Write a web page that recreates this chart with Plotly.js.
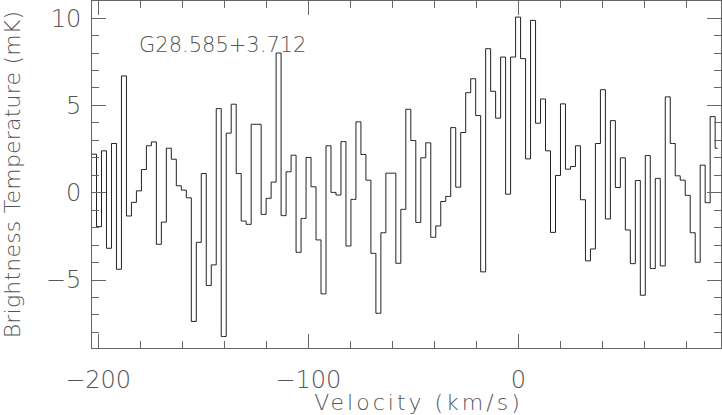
<!DOCTYPE html>
<html>
<head>
<meta charset="utf-8">
<script src="https://cdn.plot.ly/plotly-3.0.1.min.js"></script>
<style>
html,body{margin:0;padding:0;background:#fff;}
#chart{width:722px;height:415px;}
#chart .xtitle{letter-spacing:3.0px;transform:translateX(12px);}
#chart .ytitle{letter-spacing:0.2px;}
</style>
</head>
<body>
<div id="chart"></div>
<script>
// Channel brightness temperatures (mK), left to right
const temperature = [
  -1.94, 2.21, -1.94, 2.40, -3.18, 2.82, -4.38, 6.69, -1.33, -0.55, 0.11, 1.33, 2.69, 2.91, -2.95, -1.68, 2.55, 1.92, 0.40, 0.15, -0.29, -7.37,
  -2.84, 1.10, -5.31, -4.13, 4.82, -8.23, 3.41, 5.07, 1.10, -1.62, -1.81, 3.92, 3.92, -1.24, -0.32, 0.61, 8.00, -1.31, 1.20, 2.15, -3.41,
  -1.47, 2.02, 0.34, -2.70, -5.79, 2.69, 0.02, -0.13, 2.93, -3.05, -0.38, 4.06, 2.19, 0.72, -3.47, -6.90, -2.29, 1.12, 1.12, -4.04, -0.95,
  4.78, 2.99, -1.70, 2.00, 2.86, -2.55, -1.90, -0.50, -0.21, 3.73, 0.32, 3.45, 5.73, 6.53, 4.42, -4.53, 8.25, 5.81, 4.27, 7.77, -0.08,
  7.77, 10.06, 7.68, 1.94, 9.87, 3.98, 5.37, 2.40, -2.27, 0.99, 5.09, 1.35, 1.50, 2.69, -0.40, -3.90, -3.22, 2.82, 5.90, -1.50, 4.13,
  0.30, 2.00, -2.13, -4.06, 0.70, -5.87, 2.13, -4.34, 0.82, -4.19, 5.49, 2.82, 0.97, 0.72, -0.15, -2.29, -3.98, 1.58, -0.57, 4.36, 2.55
];
const firstVelocity = -204.32;   // km/s, centre of first channel
const channelWidth = 2.374;      // km/s
const sourceName = "G28.585+3.712";
const xTitle = "Velocity (km/s)";
const yTitle = "Brightness Temperature (mK)";

const fam = "DejaVu Sans, sans-serif";
const tickFont = {family: fam, size: 24, color: "#555", weight: 200};
const titleFont = {family: fam, size: 22, color: "#555", weight: 200};
const labelFont = {family: fam, size: 21, color: "#555", weight: 200};
const axisColor = "#666";

const trace = {
  type: "scatter",
  mode: "lines",
  y: temperature,
  x0: firstVelocity,
  dx: channelWidth,
  line: {shape: "hvh", color: "#222", width: 1},
  hoverinfo: "skip"
};

const layout = {
  width: 722, height: 415,
  margin: {l: 92, r: 1, t: 1, b: 67},
  paper_bgcolor: "#fff", plot_bgcolor: "#fff",
  showlegend: false,
  font: tickFont,
  xaxis: {
    range: [-202.9, 96.4],
    showgrid: false, zeroline: false,
    showline: true, linecolor: axisColor, linewidth: 1, mirror: "allticks",
    ticks: "inside", ticklen: 14, tickcolor: axisColor, tickwidth: 1,
    tick0: 0, dtick: 100,
    minor: {ticks: "inside", dtick: 20, ticklen: 7, tickcolor: axisColor, showgrid: false},
    ticklabelstandoff: 10,
    ticklabeloverflow: "allow",
    tickfont: tickFont,
    title: {text: xTitle, font: titleFont, standoff: 2}
  },
  yaxis: {
    range: [-8.89, 10.98],
    showgrid: false, zeroline: false,
    showline: true, linecolor: axisColor, linewidth: 1, mirror: "allticks",
    ticks: "inside", ticklen: 14, tickcolor: axisColor, tickwidth: 1,
    tick0: 0, dtick: 5,
    minor: {ticks: "inside", dtick: 1, ticklen: 7, tickcolor: axisColor, showgrid: false},
    ticklabelstandoff: 5,
    ticklabeloverflow: "allow",
    tickfont: tickFont,
    title: {text: yTitle, font: titleFont, standoff: 20}
  },
  annotations: [{
    text: sourceName, xref: "x", yref: "y",
    x: -181.6, y: 8.44, xanchor: "left", yanchor: "middle",
    showarrow: false, font: labelFont
  }]
};

Plotly.newPlot("chart", [trace], layout, {staticPlot: true, displayModeBar: false});
</script>
</body>
</html>
